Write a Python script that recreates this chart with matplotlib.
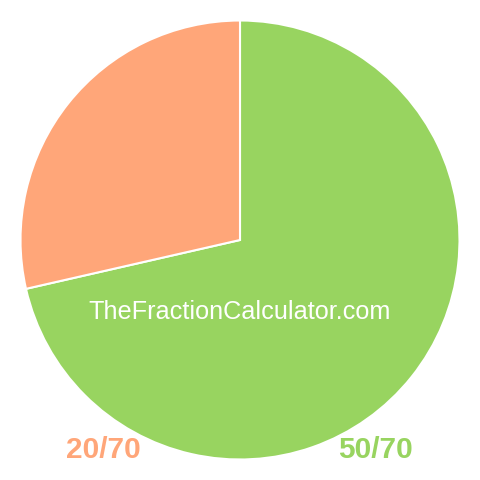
import matplotlib
matplotlib.use("Agg")
import matplotlib.pyplot as plt

labels = ["50/70", "20/70"]
values = [50, 20]
colors = ["#98D460", "#FFA679"]

R = 219.5
fig = plt.figure(figsize=(4.8, 4.8), dpi=100)
ax = fig.add_axes([0, 0, 1, 1])
ax.pie(values, colors=colors, startangle=90, counterclock=False, radius=1,
       wedgeprops=dict(edgecolor="white", linewidth=1.5))
lim = 240 / R
ax.set_xlim(-lim, lim)
ax.set_ylim(-lim, lim)
ax.set_aspect("equal")
ax.axis("off")

ax.text(0, -72 / R, "TheFractionCalculator.com", color="white",
        fontsize=18.2, family="Liberation Sans", ha="center", va="center")

ax.text((103 - 240) / R, (240 - 450) / R, labels[1], color=colors[1],
        fontsize=21.5, fontweight="bold", family="Liberation Sans",
        ha="center", va="center")
ax.text((375 - 240) / R, (240 - 450) / R, labels[0], color=colors[0],
        fontsize=21.5, fontweight="bold", family="Liberation Sans",
        ha="center", va="center")

fig.savefig("out.png", dpi=100, facecolor="white")
